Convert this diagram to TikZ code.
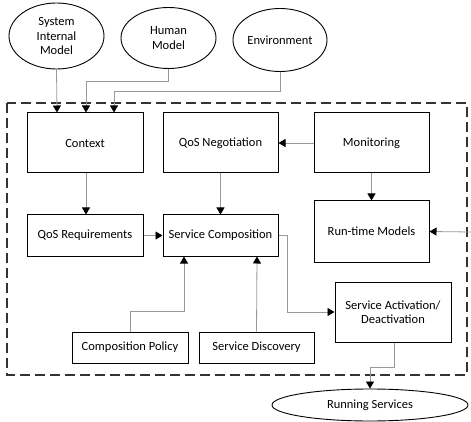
\documentclass[tikz,border=0pt]{standalone}
\usepackage{fontspec}
\setmainfont{Carlito}
\usetikzlibrary{shapes.geometric,arrows.meta}
\begin{document}
\begin{tikzpicture}[x=1pt,y=-1pt,
  every node/.style={font=\fontsize{12.5}{14.5}\selectfont, inner sep=0pt, align=center},
  box/.style={draw=black, line width=1pt, rectangle},
  oval/.style={draw=black, line width=0.9pt, ellipse},
  conn/.style={draw=black!40, line width=0.8pt, -{Triangle[length=7pt,width=8pt,color=black]}},
  frame/.style={draw=black!80, line width=1.3pt, dash pattern=on 10pt off 5pt}]
\useasboundingbox (0,0) rectangle (471,422);
\draw[frame] (7,103) rectangle (467,375);
% ellipses
\node[oval, minimum width=95pt, minimum height=66pt] (sim) at (56.5,36) {System\\Internal\\Model};
\node[oval, minimum width=95pt, minimum height=61pt] (hum) at (168.5,38) {Human\\Model};
\node[oval, minimum width=94pt, minimum height=63pt] (env) at (280,40) {Environment};
\node[oval, minimum width=196pt, minimum height=32pt] (rs) at (370,405) {Running Services};
% boxes
\node[box, minimum width=116pt, minimum height=60pt] (ctx) at (85,143) {Context};
\node[box, minimum width=115pt, minimum height=60pt] (qos) at (220.5,143) {QoS Negotiation};
\node[box, minimum width=115pt, minimum height=60pt] (mon) at (371.5,143) {Monitoring};
\node[box, minimum width=116pt, minimum height=41pt] (qreq) at (85,235.5) {QoS Requirements};
\node[box, minimum width=115pt, minimum height=41pt] (sc) at (220.5,235.5) {Service Composition};
\node[box, minimum width=115pt, minimum height=61pt] (rtm) at (371.5,231.5) {Run-time Models};
\node[box, minimum width=116pt, minimum height=60pt] (sa) at (393,312) {Service Activation/\\Deactivation};
\node[box, minimum width=116pt, minimum height=31pt] (cp) at (130,347.5) {Composition Policy};
\node[box, minimum width=115pt, minimum height=31pt] (sd) at (256.5,347.5) {Service Discovery};
\coordinate (ext) at (471,232);
% connectors
\draw[conn] (sim.south) -- ([xshift=-28pt]ctx.north);
\draw[conn] (hum.south) -- ++(0,12) -| ([xshift=1pt]ctx.north);
\draw[conn] (env.south) -- ++(0,19) -| ([xshift=29pt]ctx.north);
\draw[conn] (mon.west) -- (qos.east);
\draw[conn] ([xshift=1pt]ctx.south) -- ([xshift=1pt]qreq.north);
\draw[conn] (qos.south) -- (sc.north);
\draw[conn] (mon.south) -- (rtm.north);
\draw[conn] (qreq.east) -- (sc.west);
\draw[conn] (ext) -- (rtm.east);
\draw[conn] (sc.east) -- ++(9,0) |- (sa.west);
\draw[conn] (cp.north) -- ++(0,-20) -| ([xshift=-36.5pt]sc.south);
\draw[conn] (sd.north) -- ([xshift=0.5pt]sd.north |- sc.south);
\draw[conn] ([xshift=1pt]sa.south) -- ++(0,25) -| (rs.north);
\end{tikzpicture}
\end{document}
